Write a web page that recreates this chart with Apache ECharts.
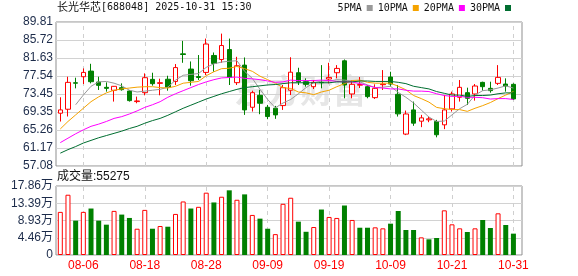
<!DOCTYPE html>
<html><head><meta charset="utf-8">
<script src="https://cdn.jsdelivr.net/npm/echarts@6/dist/echarts.min.js"></script>
<style>html,body{margin:0;padding:0;background:#fff}#c{width:578px;height:276px}</style>
</head><body><div id="c"></div>
<script>
const dates = ['08-01','08-04','08-05','08-06','08-07','08-08','08-11','08-12','08-13','08-14','08-15','08-18','08-19','08-20','08-21','08-22','08-25','08-26','08-27','08-28','08-29','09-01','09-02','09-03','09-04','09-05','09-08','09-09','09-10','09-11','09-12','09-15','09-16','09-17','09-18','09-19','09-22','09-23','09-24','09-25','09-26','09-29','09-30','10-09','10-10','10-13','10-14','10-15','10-16','10-17','10-20','10-21','10-22','10-23','10-24','10-27','10-28','10-29','10-30','10-31'];
const xTickDates = ['08-06','08-18','08-28','09-09','09-19','10-09','10-21','10-31'];
const opens  = [69.08,69.98,76.00,77.37,78.65,76.17,74.96,74.28,74.88,74.13,71.72,73.75,76.77,75.86,76.80,76.30,82.57,79.11,77.40,78.35,82.20,81.29,83.55,76.02,80.01,70.43,73.15,70.43,70.21,70.81,74.30,78.28,76.24,75.11,76.09,76.85,78.28,80.99,73.45,75.45,75.11,72.62,75.56,77.30,73.38,64.33,69.83,67.27,67.57,67.19,66.44,70.06,72.70,73.75,73.45,76.09,74.73,75.86,75.71,75.64];
const closes = [69.83,76.09,75.90,78.35,76.24,75.41,74.73,75.19,74.43,71.94,71.87,77.15,75.79,76.01,75.00,79.45,82.42,76.47,77.20,84.80,80.39,84.46,77.22,79.86,69.83,73.75,71.34,68.32,68.70,74.88,78.40,76.24,75.64,76.09,76.02,77.22,79.26,75.49,75.64,75.60,72.85,74.73,75.71,75.71,68.93,68.90,66.82,68.02,67.80,64.18,69.83,73.45,74.96,72.47,75.26,75.11,74.21,77.22,75.26,72.32];
const lows   = [67.19,68.33,74.73,75.71,75.86,74.36,73.98,71.72,74.21,71.72,71.34,73.15,75.34,73.15,74.20,75.50,80.54,75.34,76.60,77.75,78.50,80.54,75.49,75.49,68.70,69.46,68.85,67.72,67.80,69.83,73.20,75.49,75.11,74.58,74.73,75.86,77.00,72.47,72.47,74.80,72.47,72.32,74.36,75.11,68.32,64.10,66.21,65.91,67.04,63.60,65.46,69.46,71.72,70.96,71.94,74.21,73.75,75.49,73.98,72.10];
const highs  = [72.70,77.37,77.15,79.26,80.31,77.37,76.09,75.26,75.86,74.36,72.85,78.13,78.28,76.92,77.60,80.25,85.52,80.84,82.30,86.04,82.88,87.17,86.04,81.90,81.75,74.20,74.36,70.96,70.74,75.49,81.80,79.41,77.00,76.62,80.01,80.54,80.01,81.29,76.62,77.30,75.49,75.64,78.88,78.50,75.49,69.68,71.72,68.70,68.32,67.57,73.23,73.98,76.62,74.88,75.71,76.24,76.24,80.01,77.00,75.86];
const ma5  = ['-','-',71.0,73.2,75.2,76.2,76.3,75.9,75.3,74.3,73.9,74.1,74.3,74.5,75.0,76.6,77.7,77.9,78.1,79.5,80.3,80.7,80.9,81.0,78.6,77.0,74.5,72.2,70.3,71.4,72.2,73.5,74.9,76.0,76.4,76.4,76.7,76.6,76.4,76.2,75.5,74.9,75.0,75.2,73.8,72.7,71.4,69.8,68.2,67.2,67.3,68.7,70.1,71.1,73.2,74.2,74.4,74.8,75.3,74.8];
const ma10 = [65.5,67.2,68.7,70.2,71.7,72.8,73.7,74.3,74.6,74.8,75.0,75.1,75.1,74.9,74.8,75.2,75.9,76.1,76.3,77.6,78.5,79.2,79.3,79.7,79.2,78.6,77.5,76.7,75.9,74.9,74.7,73.9,73.7,73.3,73.9,74.3,75.1,75.8,76.5,76.6,76.1,75.9,75.9,75.9,75.2,74.4,73.1,72.4,71.6,70.4,70.1,69.9,69.9,69.5,70.2,70.8,71.5,72.4,73.2,74.0];
const ma20 = [62.4,63.4,64.4,65.3,66.1,66.6,67.2,67.9,68.3,68.9,69.6,70.4,71.0,71.7,72.7,73.5,74.2,74.9,75.6,76.2,76.7,77.1,77.2,77.3,77.0,76.9,76.7,76.4,76.1,76.2,76.6,76.5,76.5,76.5,76.6,76.5,76.3,76.2,76.2,75.8,75.4,74.9,74.8,74.6,74.6,74.3,74.1,74.1,74.0,73.5,73.1,72.9,72.9,72.7,72.7,72.6,72.3,72.4,72.4,72.2];
const ma30 = [60.0,60.8,61.5,62.3,62.9,63.5,64.0,64.5,65.0,65.6,66.1,66.8,67.4,67.9,68.6,69.4,70.2,70.9,71.6,72.3,72.9,73.5,74.0,74.5,74.9,75.1,75.3,75.5,75.6,75.8,76.0,76.0,76.0,76.0,76.0,76.0,76.2,76.2,76.2,76.4,76.4,76.3,76.3,76.3,76.1,75.8,75.2,74.9,74.6,74.0,73.6,73.2,73.2,72.9,73.1,73.1,73.2,73.5,73.7,73.7];
const volumes = [111600,156000,88900,111600,120300,88900,78500,114200,104600,95900,68000,116800,68000,75000,73200,106300,138600,120300,124700,161300,136000,150800,167400,143000,156900,103700,94100,68000,54000,132500,148200,86300,60100,72400,117700,98500,95900,128100,90700,70600,70600,71600,69000,81100,113900,64700,64700,45700,40600,44000,115600,79400,69000,59500,69000,90600,69900,107900,77700,55275];
const volUp = [1,1,0,1,0,0,0,1,0,0,1,1,0,1,0,1,1,0,1,1,0,1,0,1,0,1,0,0,1,1,1,0,0,1,0,1,1,0,1,0,0,1,1,0,0,0,0,1,0,0,1,1,1,0,1,0,0,1,0,0];
const priceTicks = ['57.08','61.17','65.26','69.35','73.45','77.54','81.63','85.72','89.81'];
const volTicks = ['0','4.46万','8.93万','13.39万','17.86万'];
const stockName = '长光华芯';
const stockInfo = '[688048] 2025-10-31 15:30';
const maNames = ['5PMA','10PMA','20PMA','30PMA'];

const FONT = "'Liberation Sans','Noto Sans CJK SC',sans-serif";
const MONO = "'DejaVu Sans Mono','Noto Sans CJK SC',monospace";
const RED = '#ff0000', GREEN = '#008000';
const maColors = ['#999999','#f5a300','#ff00ff','#006e30'];
const pMin = +priceTicks[0], pMax = +priceTicks[priceTicks.length-1];
const pStep = (pMax - pMin) / (priceTicks.length - 1);
const vMax = 178600, vStep = vMax / (volTicks.length - 1);

const kData = opens.map((o, i) => [o, closes[i], lows[i], highs[i]]);
const volData = volumes.map((v, i) => volUp[i]
  ? {value: v, itemStyle: {color: '#ffffff', borderColor: RED, borderWidth: 1}}
  : {value: v, itemStyle: {color: GREEN, borderColor: GREEN, borderWidth: 0}});

const chart = echarts.init(document.getElementById('c'), null, {renderer: 'canvas'});
const GL = 56, GW = 466, DL = 56.46, DW = 460.8;
const dashStyle = {type: [4, 4], color: '#cfcfcf', width: 1};
const mkLine = {
  symbol: 'none', silent: true, z: 1, animation: false,
  label: {show: false}, lineStyle: dashStyle, emphasis: {disabled: true},
  data: xTickDates.map(d => ({xAxis: d}))
};
const hiddenY = (g, mn, mx) => ({type: 'value', gridIndex: g, min: mn, max: mx, show: false, splitLine: {show: false}});
const frameX = g => ({type: 'value', gridIndex: g, min: 0, max: 1, show: false, splitLine: {show: false}});
const txt = {fontWeight: 'normal', color: '#111', fontFamily: FONT};

chart.setOption({
  animation: false,
  backgroundColor: '#ffffff',
  textStyle: {fontFamily: FONT},
  title: [
    {text: '{a|' + stockName + '}{b|' + stockInfo + '}', left: 57, top: 2, padding: 0,
     textStyle: {rich: {a: Object.assign({}, txt, {fontSize: 11}), b: Object.assign({}, txt, {fontSize: 10, fontFamily: MONO})}}},
    {text: '{a|成交量}{b|:' + volumes[volumes.length - 1] + '}', left: 57, top: 171, padding: 0,
     textStyle: {rich: {a: Object.assign({}, txt, {fontSize: 12}), b: Object.assign({}, txt, {fontSize: 12})}}}
  ],
  legend: {
    right: 67, top: 3, padding: 0, align: 'right', icon: 'rect', itemWidth: 6, itemHeight: 6, itemGap: 5,
    data: maNames, textStyle: {fontSize: 10, color: '#111', fontFamily: MONO}
  },
  graphic: [{
    type: 'text', left: 234, top: 74, z: 0, silent: true,
    style: {text: '东方财富', font: "bold 33px 'Noto Sans CJK SC'", fill: '#e6e6e6'}
  }],
  grid: [
    {left: GL, top: 22, width: GW, height: 144, show: true, borderColor: '#8f8f8f', borderWidth: 1, backgroundColor: 'transparent'},
    {left: DL, top: 22, width: DW, height: 144},
    {left: GL, top: 186, width: GW, height: 69, show: true, borderColor: '#8f8f8f', borderWidth: 1, backgroundColor: 'transparent'},
    {left: DL, top: 186, width: DW, height: 69}
  ],
  xAxis: [
    frameX(0),
    {type: 'category', gridIndex: 1, data: dates, boundaryGap: true, show: false},
    frameX(2),
    {type: 'category', gridIndex: 3, data: dates, boundaryGap: true,
     axisLine: {show: false}, axisTick: {show: false}, splitLine: {show: false},
     axisLabel: {color: RED, fontSize: 12, margin: 5, fontFamily: FONT,
       interval: (i, v) => xTickDates.indexOf(v) >= 0}}
  ],
  yAxis: [
    {type: 'value', gridIndex: 0, min: pMin, max: pMax, interval: pStep,
     axisLine: {show: false}, axisTick: {show: false},
     splitLine: {show: true, lineStyle: {color: '#d2d2d2', width: 1}},
     axisLabel: {color: '#1c2b4a', fontSize: 12, margin: 3, fontFamily: FONT,
       formatter: v => priceTicks[Math.round((v - pMin) / pStep)]}},
    hiddenY(1, pMin, pMax),
    {type: 'value', gridIndex: 2, min: 0, max: vMax, interval: vStep,
     axisLine: {show: false}, axisTick: {show: false},
     splitLine: {show: true, lineStyle: {color: '#d2d2d2', width: 1}},
     axisLabel: {color: '#1c2b4a', fontSize: 12, margin: 3, fontFamily: FONT,
       formatter: v => volTicks[Math.round(v / vStep)]}},
    hiddenY(3, 0, vMax)
  ],
  series: [
    {type: 'candlestick', name: 'K', xAxisIndex: 1, yAxisIndex: 1, data: kData, barWidth: 5, z: 3,
     itemStyle: {color: '#ffffff', color0: GREEN, borderColor: RED, borderColor0: GREEN, borderWidth: 1},
     markLine: mkLine},
    ...[ma5, ma10, ma20, ma30].map((d, k) => ({
      type: 'line', name: maNames[k], xAxisIndex: 1, yAxisIndex: 1, data: d, z: 4,
      symbol: 'none', showSymbol: false, smooth: false, color: maColors[k],
      lineStyle: {width: 1, color: maColors[k]}, itemStyle: {color: maColors[k]}
    })),
    {type: 'bar', name: 'VOL', xAxisIndex: 3, yAxisIndex: 3, data: volData, barWidth: 5, z: 3,
     markLine: mkLine}
  ]
});
</script></body></html>
